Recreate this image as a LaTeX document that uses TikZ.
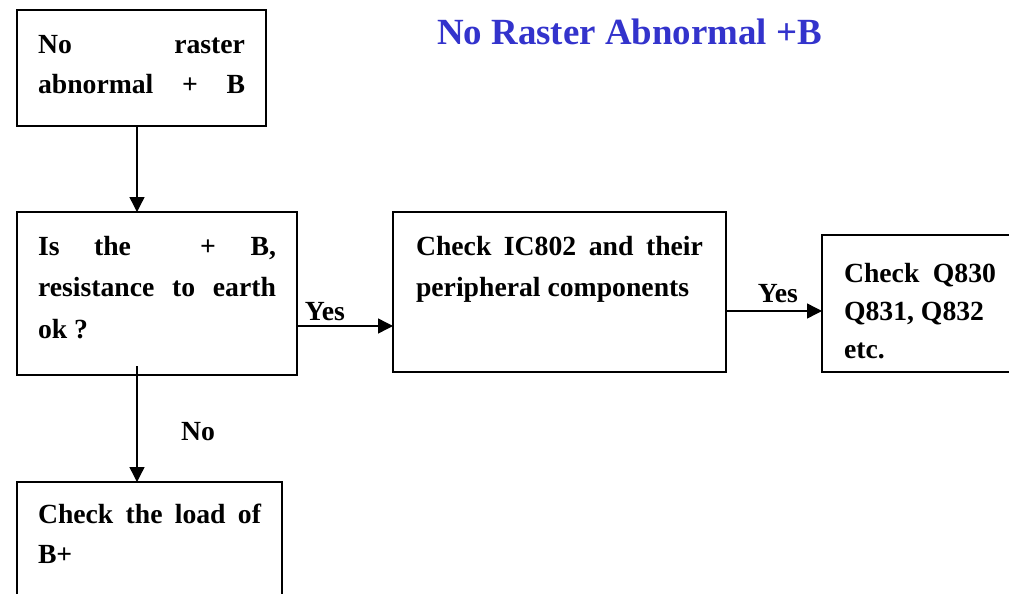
\documentclass[tikz,border=0pt]{standalone}
\usepackage{fontspec}
\setmainfont{Liberation Serif}
\usetikzlibrary{arrows.meta}
\definecolor{titleblue}{RGB}{51,51,204}
% #1 text width, #2 box height, #3 first baseline, #4 baselineskip, #5 lines
\newcommand\flowtext[5]{\parbox[c][#2][t]{#1}{\fontsize{27.7pt}{#4}\selectfont\rule{0pt}{#3}#5}}
% a justified line, stretched to the given width
\newcommand\jline[2][\linewidth]{\makebox[#1][s]{#2}}
\begin{document}
\begin{tikzpicture}[x=1pt,y=-1pt,
  box/.style={draw, line width=1.6pt, rectangle, anchor=north west,
    inner xsep=21pt, inner ysep=0pt, outer sep=0pt, font=\bfseries},
  arr/.style={line width=1.4pt, -{Triangle[length=15pt,width=15pt]}},
  lbl/.style={font=\fontsize{27.7pt}{33pt}\selectfont\bfseries, anchor=base, inner sep=0pt}]
\useasboundingbox (0,0) rectangle (1009,594);

\node[font=\fontsize{36.9pt}{44pt}\selectfont\bfseries, text=titleblue, anchor=base, inner sep=0pt]
  (title) at (629.5,45) {No Raster Abnormal +B};

\node[box] (start) at (17,10)
  {\flowtext{207pt}{116pt}{43pt}{40pt}{\jline{No raster}\\\jline{abnormal + B}}};
\node[box] (test) at (17,212)
  {\flowtext{238pt}{163pt}{43pt}{41.5pt}{\jline{Is the\ \ + B,}\\\jline{resistance to earth}\\ok ?}};
\node[box, inner xsep=23pt] (ic) at (393,212)
  {\flowtext{287pt}{160pt}{43pt}{41pt}{\jline{Check IC802 and their}\\peripheral components}};
\node[box, inner xsep=22pt] (q) at (822,235)
  {\flowtext{156pt}{137pt}{47pt}{38pt}{\jline[152pt]{Check Q830}\\Q831, Q832\\etc.}};
\node[box] (load) at (17,482)
  {\flowtext{223pt}{140pt}{41pt}{40pt}{\jline{Check the load of}\\B+}};

\draw[arr] ([xshift=-4.5pt]start.south) -- ([xshift=-4.5pt]start.south |- test.north);
\draw[arr] ([yshift=-32.5pt]test.east) -- ([yshift=-32.5pt]test.east -| ic.west)
  node[lbl, pos=0.29, yshift=6pt] {Yes};
\draw[arr] ([yshift=-19pt]ic.east) -- ([yshift=-19pt]ic.east -| q.west)
  node[lbl, pos=0.54, yshift=9pt] {Yes};
\draw[arr] ([xshift=-20pt,yshift=9pt]test.south) -- ([xshift=-20pt]test.south |- load.north)
  node[lbl, pos=0.64, xshift=61pt] {No};
\end{tikzpicture}
\end{document}
